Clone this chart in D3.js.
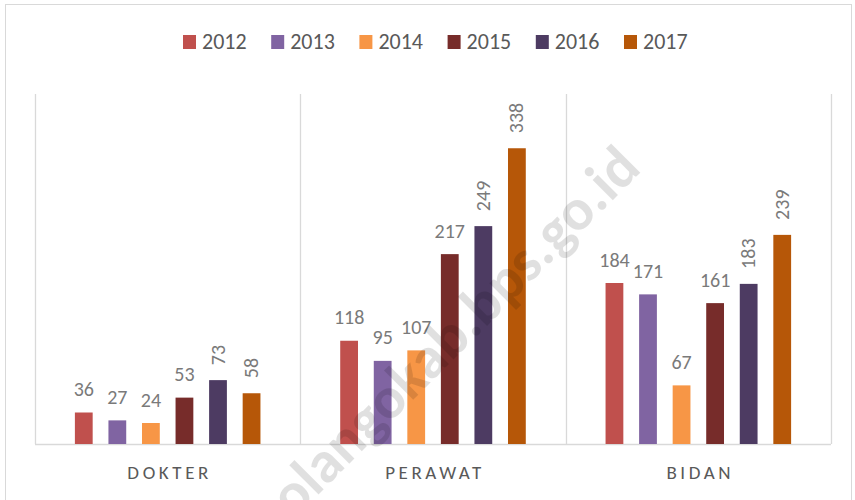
<!DOCTYPE html>
<html>
<head>
    <title>Tenaga Kesehatan</title>
    <script src="https://cdnjs.cloudflare.com/ajax/libs/d3/7.8.5/d3.min.js"></script>
    <style>
        body { margin: 0; background: #fff; }
        svg { display: block; }
        text { font-family: Carlito, Lato, "Liberation Sans", sans-serif; }
    </style>
</head>
<body>
    <svg width="855" height="500"></svg>

    <script>
        // data
        const categories = ["DOKTER", "PERAWAT", "BIDAN"];
        const years = ["2012", "2013", "2014", "2015", "2016", "2017"];
        const values = {
            "2012": [36, 118, 184],
            "2013": [27, 95, 171],
            "2014": [24, 107, 67],
            "2015": [53, 217, 161],
            "2016": [73, 249, 183],
            "2017": [58, 338, 239]
        };
        // labels drawn vertically in the original
        const rotatedLabels = [["DOKTER", "2016"], ["DOKTER", "2017"], ["PERAWAT", "2016"],
                               ["PERAWAT", "2017"], ["BIDAN", "2016"], ["BIDAN", "2017"]];
        const colors = ["#c0504d", "#8064a2", "#f79646", "#772c2a", "#4d3b62", "#b65708"];

        const svg = d3.select("svg");

        // outer chart border
        svg.append("rect").attr("x", 5.5).attr("y", 4.5).attr("width", 846).attr("height", 520)
           .attr("fill", "none").attr("stroke", "#d9d9d9");

        const x0 = d3.scaleBand().domain(categories).range([35, 831]).padding(0);
        const x1 = d3.scaleBand().domain(years).range([32, x0.bandwidth() - 32])
                     .paddingInner(0.47).paddingOuter(0.235);
        const y = d3.scaleLinear().domain([0, 400]).range([444, 94]);
        const color = d3.scaleOrdinal().domain(years).range(colors);

        // category separators
        const seps = categories.map(c => x0(c)).concat([x0.range()[1]]);
        svg.selectAll(".sep").data(seps).enter().append("line")
           .attr("x1", d => Math.round(d) + 0.5).attr("x2", d => Math.round(d) + 0.5)
           .attr("y1", y(400)).attr("y2", y(0))
           .attr("stroke", "#d9d9d9").attr("stroke-width", 1.3);
        svg.append("line").attr("x1", 35).attr("x2", 831)
           .attr("y1", y(0) + 0.5).attr("y2", y(0) + 0.5)
           .attr("stroke", "#d9d9d9").attr("stroke-width", 1.3);

        // bars
        const rows = [];
        categories.forEach((c, i) => {
            years.forEach(yr => rows.push({ cat: c, year: yr, value: values[yr][i] }));
        });

        const isRot = d => rotatedLabels.some(r => r[0] === d.cat && r[1] === d.year);

        svg.selectAll(".bar").data(rows).enter().append("rect")
           .attr("x", d => x0(d.cat) + x1(d.year))
           .attr("y", d => y(d.value))
           .attr("width", x1.bandwidth())
           .attr("height", d => y(0) - y(d.value))
           .attr("fill", d => color(d.year));

        // data labels
        svg.selectAll(".lbl").data(rows).enter().append("text")
           .attr("transform", d => {
               const cx = x0(d.cat) + x1(d.year) + x1.bandwidth() / 2;
               return isRot(d)
                   ? `translate(${cx + 6.5},${y(d.value) - 15}) rotate(-90)`
                   : `translate(${cx},${y(d.value) - 16.5})`;
           })
           .attr("text-anchor", d => isRot(d) ? "start" : "middle")
           .attr("font-size", 20)
           .attr("fill", "#7a7a7a")
           .text(d => d.value);

        // category axis labels
        svg.selectAll(".cat").data(categories).enter().append("text")
           .attr("x", d => x0(d) + x0.bandwidth() / 2 + 2)
           .attr("y", 479)
           .attr("text-anchor", "middle")
           .attr("font-size", 19)
           .attr("letter-spacing", 3.6)
           .attr("fill", "#595959")
           .text(d => d);

        // legend
        const leg = svg.selectAll(".leg").data(years).enter().append("g")
           .attr("transform", (d, i) => `translate(${183 + i * 88.2},35)`);
        leg.append("rect").attr("width", 13).attr("height", 14).attr("fill", d => color(d));
        leg.append("text").attr("x", 19).attr("y", 14).attr("font-size", 22)
           .attr("fill", "#595959").text(d => d);

        // watermark
        svg.append("text")
           .attr("transform", "translate(643,170) rotate(-45)")
           .attr("text-anchor", "end")
           .attr("font-family", "'Liberation Sans', Arial, sans-serif")
           .attr("font-weight", "bold")
           .attr("font-size", 59)
           .attr("fill", "#000").attr("fill-opacity", 0.12)
           .text("bonebolangokab.bps.go.id");
    </script>
</body>
</html>
